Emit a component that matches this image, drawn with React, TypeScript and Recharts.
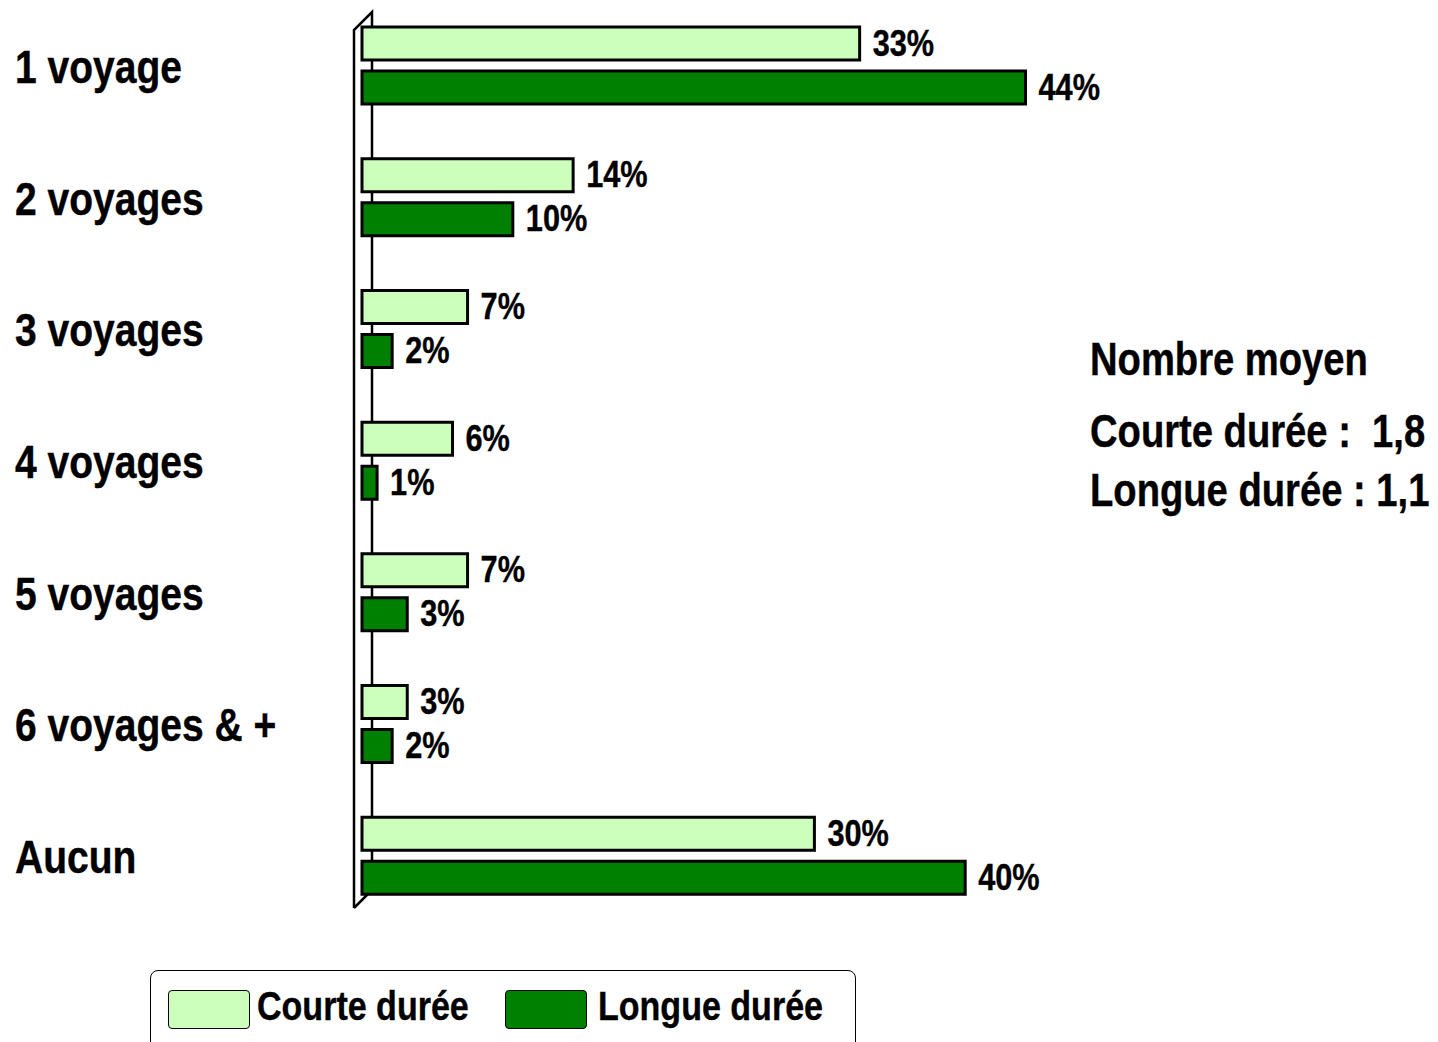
import React from 'react';
import { BarChart, Bar, XAxis, YAxis, LabelList, Legend, Customized } from 'recharts';

const categories = ['1 voyage', '2 voyages', '3 voyages', '4 voyages', '5 voyages', '6 voyages & +', 'Aucun'];
const courteDuree = [33, 14, 7, 6, 7, 3, 30];
const longueDuree = [44, 10, 2, 1, 3, 2, 40];
const seriesNames = ['Courte durée', 'Longue durée'];
const seriesColors = ['#CCFFBB', '#008000'];
const noteLines = ['Nombre moyen', 'Courte durée :  1,8', 'Longue durée : 1,1'];

const data = categories.map((c, i) => ({ cat: c, courte: courteDuree[i], longue: longueDuree[i] }));

const FONT = "'Liberation Sans', Arial, sans-serif";
const SX = 0.83;

const W = 1438;
const H = 1042;
const M = { top: 0, right: 322, bottom: 120, left: 0 };
const YW = 354;

const NText = ({ x, y, size, children }: any) => (
  <text
    transform={`translate(${x},${y}) scale(${SX},1)`}
    x={0}
    y={0}
    textAnchor="start"
    fontFamily={FONT}
    fontWeight="bold"
    fontSize={size}
    fill="#000"
    stroke="#000"
    strokeWidth={0.4}
    style={{ whiteSpace: 'pre' }}
  >
    {children}
  </text>
);

const YTick = (props: any) => {
  const { y, payload } = props;
  return <NText x={15} y={y + 17} size={47}>{payload.value}</NText>;
};

const ValueLabel = (props: any) => {
  const { x, y, width, height, value } = props;
  return <NText x={Number(x) + Number(width) + 13} y={Number(y) + Number(height) / 2 + 12} size={37}>{`${value}%`}</NText>;
};

const Wall = () => {
  const left = M.left + YW;
  const top = M.top;
  const bottom = H - M.bottom;
  const d = 18;
  return (
    <g fill="none" stroke="#000" strokeWidth={2.5}>
      <polyline points={`${left},${bottom - 14} ${left},${top + 30} ${left + d},${top + 12} ${left + d},${bottom - 32} ${left},${bottom - 14}`} />
    </g>
  );
};

const Note = () => (
  <g>
    <NText x={1090} y={375} size={46}>{noteLines[0]}</NText>
    <NText x={1090} y={447} size={46}>{noteLines[1]}</NText>
    <NText x={1090} y={506} size={46}>{noteLines[2]}</NText>
  </g>
);

const LegendBox = () => (
  <div
    style={{
      position: 'absolute',
      left: 150,
      top: 970,
      width: 706,
      height: 100,
      border: '1.5px solid #000',
      borderRadius: 8,
      boxSizing: 'border-box',
      fontFamily: FONT,
      fontWeight: 'bold',
      fontSize: 41,
      background: '#fff',
    }}
  >
    {seriesNames.map((n, i) => (
      <div key={n} style={{ position: 'absolute', left: i === 0 ? 17 : 354, top: 19, display: 'flex', alignItems: 'center' }}>
        <div style={{ width: 80, height: 37, background: seriesColors[i], border: '1px solid #000', borderRadius: 4, flex: 'none' }} />
        <span
          style={{
            marginLeft: i === 0 ? 7 : 11,
            lineHeight: '38px',
            whiteSpace: 'nowrap',
            display: 'inline-block',
            transform: `translateY(-4px) scaleX(${SX})`,
            transformOrigin: 'left center',
            WebkitTextStroke: '0.4px #000',
          }}
        >
          {n}
        </span>
      </div>
    ))}
  </div>
);

export default function App() {
  return (
    <div style={{ position: 'absolute', left: 0, top: 0, width: W, height: H, background: '#fff', overflow: 'hidden' }}>
      <BarChart width={W} height={H} data={data} layout="vertical" margin={M} barSize={33} barGap={11}>
        <XAxis type="number" hide domain={[-0.531, 50]} allowDataOverflow />
        <YAxis type="category" dataKey="cat" width={YW} tick={<YTick />} tickLine={false} axisLine={false} interval={0} />
        <Customized component={<Wall />} />
        <Bar dataKey="courte" name={seriesNames[0]} fill={seriesColors[0]} stroke="#000" strokeWidth={3} isAnimationActive={false}>
          <LabelList dataKey="courte" content={<ValueLabel />} />
        </Bar>
        <Bar dataKey="longue" name={seriesNames[1]} fill={seriesColors[1]} stroke="#000" strokeWidth={3} isAnimationActive={false}>
          <LabelList dataKey="longue" content={<ValueLabel />} />
        </Bar>
        <Customized component={<Note />} />
        <Legend content={() => null} />
      </BarChart>
      <LegendBox />
    </div>
  );
}
